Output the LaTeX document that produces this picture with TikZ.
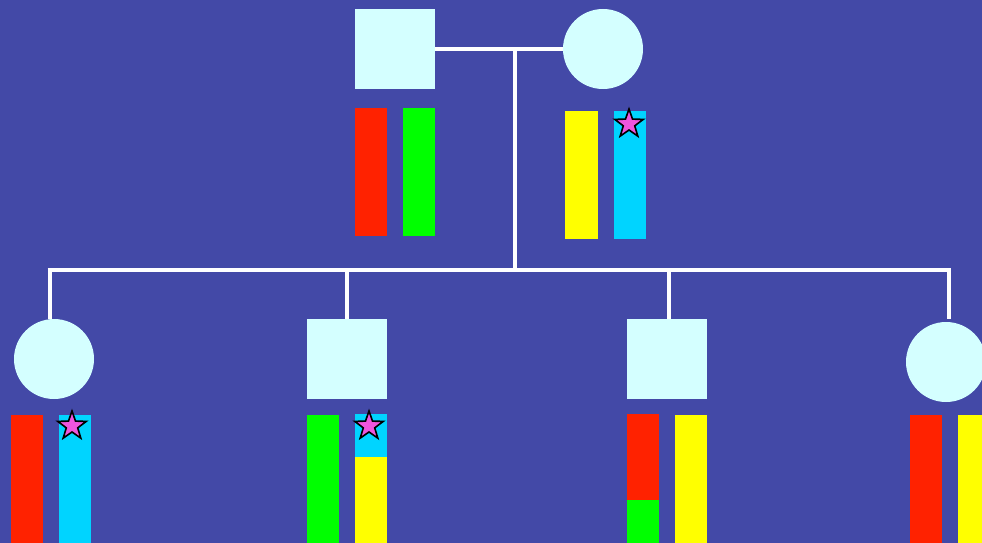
\documentclass[tikz,border=0pt]{standalone}
\usetikzlibrary{shapes.geometric}
\definecolor{bg}{RGB}{67,73,167}
\definecolor{person}{RGB}{212,255,255}
\definecolor{cred}{RGB}{255,34,0}
\definecolor{cgreen}{RGB}{0,255,0}
\definecolor{cyellow}{RGB}{255,255,0}
\definecolor{ccyan}{RGB}{0,212,255}
\definecolor{cpink}{RGB}{238,85,221}
\begin{document}
\begin{tikzpicture}[x=1pt,y=-1pt,
  male/.style={rectangle,fill=person,minimum size=80pt,inner sep=0pt},
  female/.style={circle,fill=person,minimum size=80pt,inner sep=0pt},
  link/.style={draw=white,line width=4.8pt},
  chrom/.style={rectangle,inner sep=0pt,minimum width=32pt,anchor=north west},
  starmark/.style={star,star points=5,star point ratio=2.5,minimum size=30pt,inner sep=0pt,fill=cpink,draw=black,line width=1.6pt,miter limit=10}]
\fill[bg] (0,0) rectangle (982,543);
\useasboundingbox (0,0) rectangle (982,543);
% parents
\node[male] (father) at (395,49) {};
\node[female] (mother) at (603,49) {};
% children
\node[female] (c1) at (54,359) {};
\node[male] (c2) at (347,359) {};
\node[male] (c3) at (667,359) {};
\node[female] (c4) at (946,362) {};
% connectors
\coordinate (mid) at (515,49);
\coordinate (hub) at (515,270);
\coordinate (b1) at (50,270);
\coordinate (b2) at (347,270);
\coordinate (b3) at (669,270);
\coordinate (b4) at (949,270);
\draw[link] (father.east) -- (mother.west);
\draw[link] (mid) -- (hub);
\draw[link] ([xshift=-2.4pt]b1) -- ([xshift=2.4pt]b4);
\draw[link] (b1) -- (b1 |- c1.north);
\draw[link] (b2) -- (c2.north);
\draw[link] (b3) -- (b3 |- c3.north);
\draw[link] (b4) -- ([yshift=3pt]b4 |- c4.north);
% father chromosomes
\node[chrom,fill=cred,minimum height=128pt] (f1) at (355,108) {};
\node[chrom,fill=cgreen,minimum height=128pt] (f2) at (403,108) {};
% mother chromosomes
\node[chrom,fill=cyellow,minimum height=128pt,minimum width=33pt] (m1) at (565,111) {};
\node[chrom,fill=ccyan,minimum height=128pt] (m2) at (614,111) {};
\node[starmark] (s0) at (629,124) {};
% child 1
\node[chrom,fill=cred,minimum height=130pt] (c1a) at (11,415) {};
\node[chrom,fill=ccyan,minimum height=130pt] (c1b) at (59,415) {};
\node[starmark] (s1) at (72,426) {};
% child 2
\node[chrom,fill=cgreen,minimum height=130pt] (c2a) at (307,415) {};
\node[chrom,fill=ccyan,minimum height=44pt] (c2b) at (355,414) {};
\node[chrom,fill=cyellow,minimum height=88pt] (c2c) at (355,457) {};
\node[starmark] (s2) at (369,426) {};
% child 3
\node[chrom,fill=cred,minimum height=87pt] (c3a) at (627,414) {};
\node[chrom,fill=cgreen,minimum height=45pt] (c3b) at (627,500) {};
\node[chrom,fill=cyellow,minimum height=130pt] (c3c) at (675,415) {};
% child 4
\node[chrom,fill=cred,minimum height=130pt] (c4a) at (910,415) {};
\node[chrom,fill=cyellow,minimum height=130pt] (c4b) at (958,415) {};
\end{tikzpicture}
\end{document}
